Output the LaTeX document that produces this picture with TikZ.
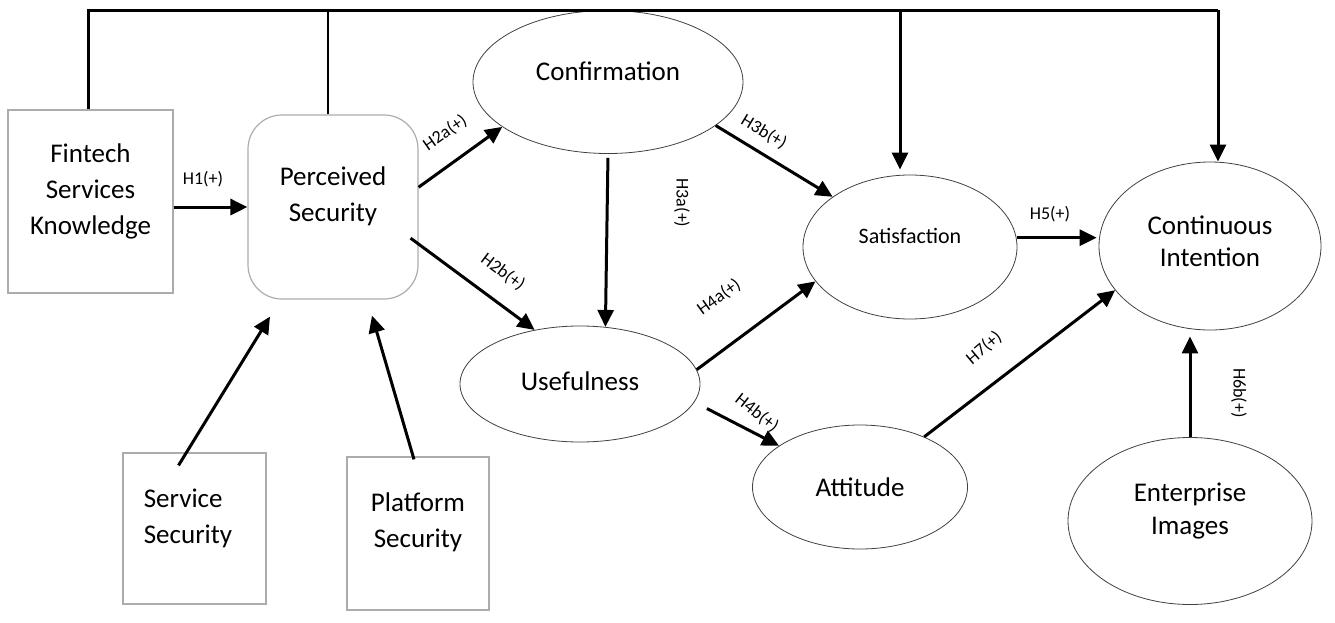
\documentclass[tikz,border=0pt]{standalone}
\usepackage{fontspec}
\setmainfont{Carlito}
\usetikzlibrary{arrows.meta, shapes.geometric}

\tikzset{
  box/.style={draw=gray!65, line width=0.6pt, inner sep=0pt},
  oval/.style={draw=black!75, ellipse, line width=0.4pt, inner sep=0pt},
  big/.style={font=\fontsize{13.5}{18}\selectfont, align=center},
  arr/.style={line width=1.5pt, -{Triangle[length=8.5pt,width=8pt]}},
  link/.style={line width=1.5pt},
  lbl/.style={font=\fontsize{9}{10}\selectfont, inner sep=0pt}
}

\begin{document}
\begin{tikzpicture}[x=0.5pt,y=-0.5pt]

  \useasboundingbox (0,0) rectangle (1335,622);

  % Constructs
  \node[box, minimum width=82.5pt, minimum height=91.5pt,
        label={[big,yshift=5.25pt]center:Fintech\\Services\\Knowledge}] (fsk) at (90.5,201.5) {};
  \node[box, rounded corners=17pt, minimum width=85pt, minimum height=92pt,
        label={[big,yshift=5.5pt]center:Perceived\\Security}] (ps) at (333,207) {};
  \node[box, minimum width=71.5pt, minimum height=75.5pt,
        label={[big,align=left,xshift=-3.25pt,yshift=5.25pt]center:Service\\Security}] (ssec) at (194.5,528.5) {};
  \node[box, minimum width=71pt, minimum height=76.5pt,
        label={[big,yshift=5.75pt]center:Platform\\Security}] (psec) at (418,533.5) {};

  \node[oval, minimum width=135pt, minimum height=71.5pt,
        label={[big,yshift=5.5pt]center:Confirmation}] (conf) at (608,82) {};
  \node[oval, minimum width=120pt, minimum height=58pt,
        label={[big,yshift=1.5pt]center:Usefulness}] (use) at (580,384) {};
  \node[oval, minimum width=107pt, minimum height=72pt,
        label={[font=\fontsize{11}{13}\selectfont,yshift=5.5pt]center:Satisfaction}] (sat) at (910,247) {};
  \node[oval, minimum width=107.5pt, minimum height=62pt,
        label={[big]center:Attitude}] (att) at (860,487) {};
  \node[oval, minimum width=111pt, minimum height=84pt,
        label={[big,font=\fontsize{13.5}{16}\selectfont,yshift=2.5pt]center:Continuous\\Intention}] (ci) at (1210,246) {};
  \node[oval, minimum width=122pt, minimum height=83.5pt,
        label={[big,font=\fontsize{13.5}{16.5}\selectfont,yshift=4.75pt]center:Enterprise\\Images}] (ei) at (1190,521) {};

  % Top links
  \coordinate (tr) at (1218,10);
  \coordinate (sd) at (900,10);
  \draw[link] ([xshift=-1.25pt]fsk.north) |- (tr);
  \draw[line width=0.8pt] ([xshift=-2.5pt]ps.north) -- ++(0,-105);
  \draw[arr, shorten >=2.5pt] (sd) -- (sd |- sat.north);
  \draw[arr] (tr) -- (tr |- ci.north);

  % Hypotheses
  \draw[arr] (fsk.east |- ps.west) -- (ps.west);
  \draw[arr] (ps.13) -- (conf.203);
  \draw[arr] ([xshift=-4pt]ps.-20) -- (use.130);
  \draw[arr, shorten <=2pt] (conf.-90) -- (use.66);
  \draw[arr] (conf.-22) -- (sat.147);
  \draw[arr] (use.7) -- (sat.200);
  \draw[arr, shorten <=7pt] (use.-9) -- (att.153);
  \draw[arr, shorten >=1pt] (sat.5) -- (sat.5 -| ci.west);
  \draw[arr] (att.38) -- (ci.205);
  \draw[arr, shorten >=3pt] (ei.north) -- (ei.north |- ci.south);
  \draw[arr] ([xshift=-8pt,yshift=-6.5pt]ssec.north) -- ([xshift=-31.5pt,yshift=-8.5pt]ps.south);
  \draw[arr] ([xshift=-2pt,yshift=-1.5pt]psec.north) -- ([xshift=19.5pt,yshift=-8pt]ps.south);

  % Labels
  \node[lbl] (h1) at (203,179) {H1(+)};
  \node[lbl, rotate=35] (h2a) at (445,133) {H2a(+)};
  \node[lbl, rotate=-37] (h2b) at (503,272) {H2b(+)};
  \node[lbl, rotate=-90] (h3a) at (682,203) {H3a(+)};
  \node[lbl, rotate=-31] (h3b) at (764,132) {H3b(+)};
  \node[lbl, rotate=36] (h4a) at (719,297) {H4a(+)};
  \node[lbl, rotate=-38] (h4b) at (757,413) {H4b(+)};
  \node[lbl] (h5) at (1050,214) {H5(+)};
  \node[lbl, rotate=40] (h7) at (984,348) {H7(+)};
  \node[lbl, rotate=-90] (h6b) at (1239,393) {H6b(+)};

\end{tikzpicture}
\end{document}
